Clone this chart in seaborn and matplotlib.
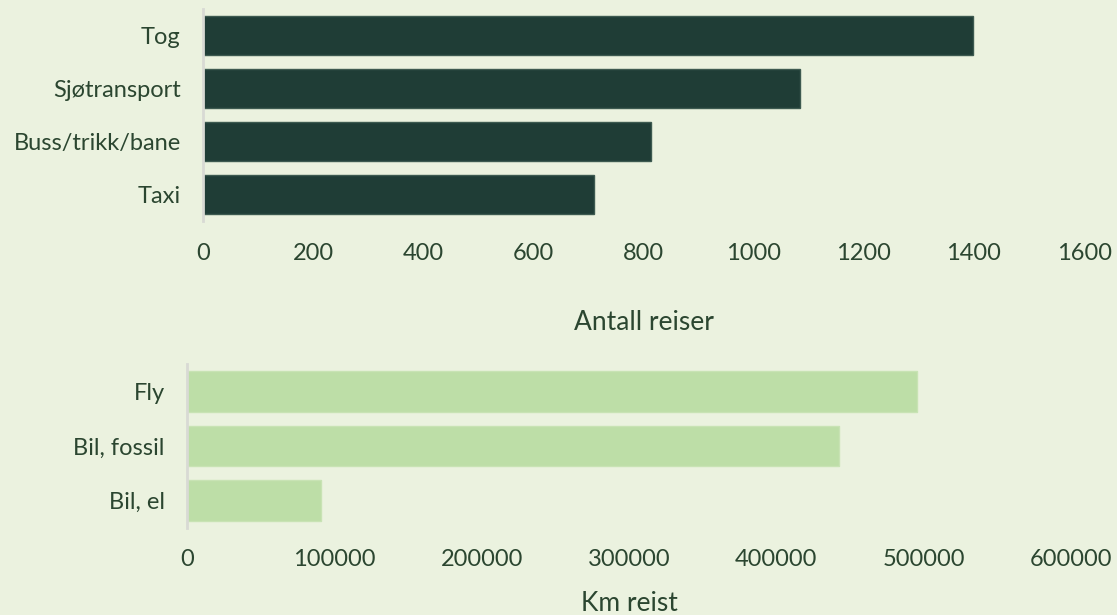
import pandas as pd
import seaborn as sns
import matplotlib.pyplot as plt

# number of trips per transport mode
TRIP_MODES = ["Tog", "Sjøtransport", "Buss/trikk/bane", "Taxi"]
TRIP_COUNTS = [1398, 1084, 813, 710]

# km travelled per transport mode
KM_MODES = ["Fly", "Bil, fossil", "Bil, el"]
KM_VALUES = [495600, 442600, 91000]

BG = "#ebf2df"
DARK = "#1f3d36"
LIGHT = "#bddea7"
TEXT = "#2b4630"


def style_axis(ax, xlim, step, xlabel, xpad, labelpad):
    ax.set_facecolor(BG)
    ax.set_xlim(*xlim)
    ax.set_xticks(range(xlim[0], xlim[1] + 1, step))
    for side in ["top", "right", "bottom"]:
        ax.spines[side].set_visible(False)
    ax.spines["left"].set_color("#d8dad4")
    ax.spines["left"].set_linewidth(2)
    ax.tick_params(length=0, labelsize=17, colors=TEXT)
    ax.tick_params(axis="x", pad=xpad)
    ax.tick_params(axis="y", pad=16)
    ax.set_ylabel("")
    ax.set_xlabel(xlabel, fontsize=19, color=TEXT, labelpad=labelpad)
    ax.grid(False)


def main():
    sns.set_theme(style="white")
    plt.rcParams["font.family"] = ["Lato", "DejaVu Sans"]

    trips = pd.DataFrame({"mode": TRIP_MODES, "count": TRIP_COUNTS})
    km = pd.DataFrame({"mode": KM_MODES, "km": KM_VALUES})

    fig = plt.figure(figsize=(11.17, 6.15), dpi=100, facecolor=BG)
    ax1 = fig.add_axes([0.1817, 0.6407, 0.7888, 0.3447])
    ax2 = fig.add_axes([0.1674, 0.1415, 0.7914, 0.2666])

    sns.barplot(data=trips, x="count", y="mode", orient="h", color=DARK,
                width=0.74, edgecolor="#3d5a50", linewidth=1, saturation=1,
                ax=ax1)
    ax1.set_ylim(3.5, -0.5)
    style_axis(ax1, (0, 1600), 200, "Antall reiser", 16, 33)

    sns.barplot(data=km, x="km", y="mode", orient="h", color=LIGHT,
                width=0.74, edgecolor="#c8e3b4", linewidth=1, saturation=1,
                ax=ax2)
    ax2.set_ylim(2.5, -0.5)
    style_axis(ax2, (0, 600000), 100000, "Km reist", 15, 15)

    fig.savefig("out.png", dpi=100, facecolor=BG)


if __name__ == "__main__":
    main()
